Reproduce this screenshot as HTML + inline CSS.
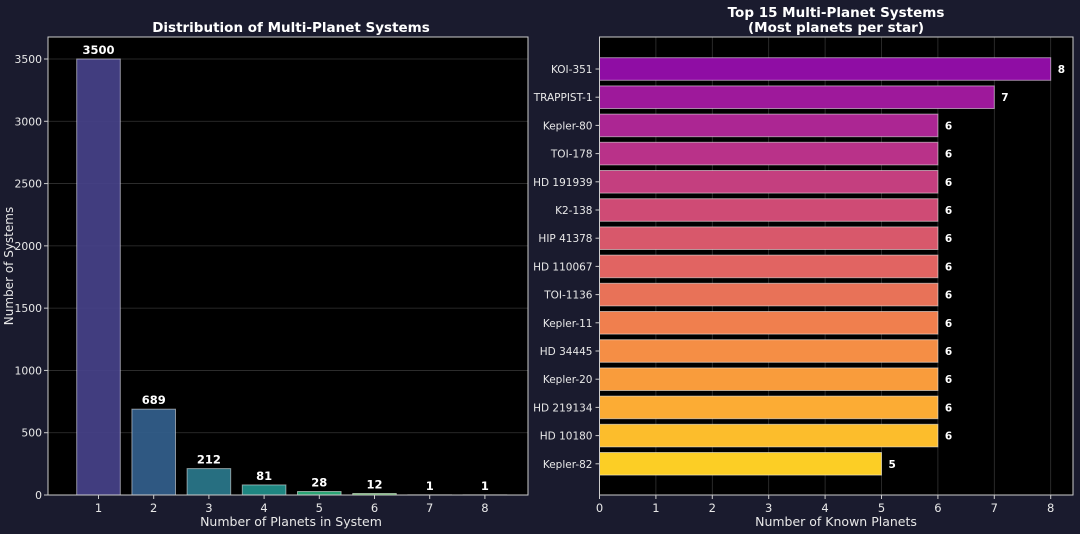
<!DOCTYPE html>
<html><head><meta charset="utf-8"><style>
html,body{margin:0;padding:0;background:#1a1b2e;}
svg{display:block;font-family:"DejaVu Sans","Liberation Sans",sans-serif;}
</style></head><body>
<svg id="s" width="1080" height="534" xmlns="http://www.w3.org/2000/svg"></svg>
<script>
const s=document.getElementById('s');let h='';
h+='<rect width="1080" height="534" fill="#1a1b2e"/>';
const L=48,R=528,T=37,B=495;
h+=`<rect x="${L}" y="${T}" width="${R-L}" height="${B-T}" fill="#000"/>`;
const py=v=>B-v*(436/3500);
for(let v=0;v<=3500;v+=500){const y=py(v);
 if(v>0)h+=`<line x1="${L}" x2="${R}" y1="${y}" y2="${y}" stroke="#fff" stroke-opacity="0.2" stroke-width="0.8"/>`;
 h+=`<line x1="${L-4}" x2="${L}" y1="${y}" y2="${y}" stroke="#ccc"/>`;
 h+=`<text x="${L-6}" y="${y+4}" fill="#e8e8e8" font-size="10.8" text-anchor="end">${v}</text>`;}
const vals=[3500,689,212,81,28,12,1,1];
const lc=['#46428a','#335f8d','#2a788c','#21918c','#2db27d','#5ec962','#a0da39','#dde318'];
vals.forEach((v,i)=>{const cx=98.5+i*55.2;const y=py(v);
 h+=`<rect x="${cx-21.8}" y="${y}" width="43.6" height="${B-y}" fill="${lc[i]}" fill-opacity="0.92" stroke="#fff" stroke-opacity="0.5" stroke-width="1"/>`;
 h+=`<text x="${cx}" y="${y-5}" fill="#fff" font-size="11.5" font-weight="bold" text-anchor="middle">${v}</text>`;
 h+=`<line x1="${cx}" x2="${cx}" y1="${B}" y2="${B+4}" stroke="#ccc"/>`;
 h+=`<text x="${cx}" y="${B+17}" fill="#e8e8e8" font-size="11.5" text-anchor="middle">${i+1}</text>`;});
h+=`<rect x="${L}" y="${T}" width="${R-L}" height="${B-T}" fill="none" stroke="#ccc" stroke-width="1"/>`;
h+=`<text x="291" y="32" fill="#fff" font-size="13.5" font-weight="bold" text-anchor="middle">Distribution of Multi-Planet Systems</text>`;
h+=`<text x="291" y="526" fill="#e8e8e8" font-size="12.5" text-anchor="middle">Number of Planets in System</text>`;
h+=`<text transform="translate(13,266) rotate(-90)" fill="#e8e8e8" font-size="12" text-anchor="middle">Number of Systems</text>`;
const L2=599.5,R2=1073,T2=37,B2=495,u=56.4;
h+=`<rect x="${L2}" y="${T2}" width="${R2-L2}" height="${B2-T2}" fill="#000"/>`;
for(let k=0;k<=8;k++){const x=L2+k*u;
 if(k>0)h+=`<line x1="${x}" x2="${x}" y1="${T2}" y2="${B2}" stroke="#fff" stroke-opacity="0.2" stroke-width="0.8"/>`;
 h+=`<line x1="${x}" x2="${x}" y1="${B2}" y2="${B2+4}" stroke="#ccc"/>`;
 h+=`<text x="${x}" y="${B2+17}" fill="#e8e8e8" font-size="11.5" text-anchor="middle">${k}</text>`;}
const names=['KOI-351','TRAPPIST-1','Kepler-80','TOI-178','HD 191939','K2-138','HIP 41378','HD 110067','TOI-1136','Kepler-11','HD 34445','Kepler-20','HD 219134','HD 10180','Kepler-82'];
const nv=[8,7,6,6,6,6,6,6,6,6,6,6,6,6,5];
const pl=[[0.3,[143,13,164]],[0.4,[177,42,144]],[0.5,[204,71,120]],[0.6,[225,100,98]],[0.7,[242,132,75]],[0.8,[252,166,54]],[0.9,[252,206,37]]];
function pc(t){for(let i=0;i<pl.length-1;i++){const[a,ca]=pl[i],[b,cb]=pl[i+1];if(t<=b+1e-9){const f=(t-a)/(b-a);return 'rgb('+ca.map((c,j)=>Math.round(c+(cb[j]-c)*f)).join(',')+')';}}return 'rgb(252,206,37)';}
names.forEach((n,i)=>{const cy=69+i*28.2;const w=nv[i]*u;const t=0.3+0.6*i/14;
 h+=`<rect x="${L2}" y="${cy-11.3}" width="${w}" height="22.6" fill="${pc(t)}" stroke="#fff" stroke-opacity="0.5" stroke-width="1"/>`;
 h+=`<text x="${L2+w+7}" y="${cy+4}" fill="#fff" font-size="10.5" font-weight="bold">${nv[i]}</text>`;
 h+=`<line x1="${L2-4}" x2="${L2}" y1="${cy}" y2="${cy}" stroke="#ccc"/>`;
 h+=`<text x="${L2-7}" y="${cy+4}" fill="#e8e8e8" font-size="10.5" text-anchor="end">${n}</text>`;});
h+=`<rect x="${L2}" y="${T2}" width="${R2-L2}" height="${B2-T2}" fill="none" stroke="#ccc" stroke-width="1"/>`;
h+=`<text x="836" y="17" fill="#fff" font-size="13.5" font-weight="bold" text-anchor="middle">Top 15 Multi-Planet Systems</text>`;
h+=`<text x="836" y="32" fill="#fff" font-size="13.5" font-weight="bold" text-anchor="middle">(Most planets per star)</text>`;
h+=`<text x="836" y="526" fill="#e8e8e8" font-size="12.5" text-anchor="middle">Number of Known Planets</text>`;
s.innerHTML=h;
</script>
</body></html>
